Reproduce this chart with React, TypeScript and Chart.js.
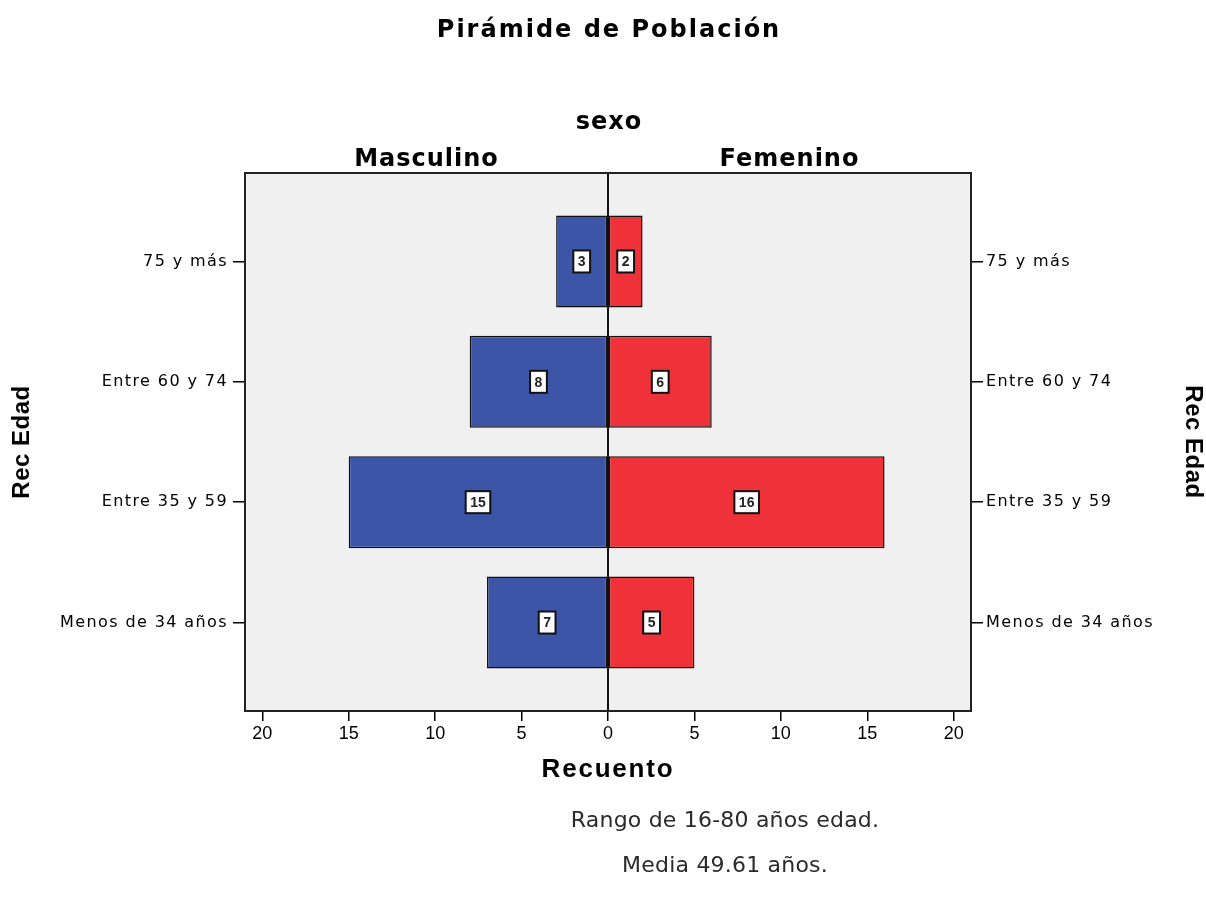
import React, { useEffect, useRef } from "react";
import { Chart, registerables } from "chart.js";

Chart.register(...registerables);

// ---------- data ----------
const ageGroups = ["75 y más", "Entre 60 y 74", "Entre 35 y 59", "Menos de 34 años"];
const maleCounts = [3, 8, 15, 7];
const femaleCounts = [2, 6, 16, 5];
const xTickValues = [-20, -15, -10, -5, 0, 5, 10, 15, 20];
const sexLabels = ["Masculino", "Femenino"];
const chartTitle = "Pirámide de Población";
const panelTitle = "sexo";
const xTitle = "Recuento";
const yTitle = "Rec Edad";
const footerLines = ["Rango de 16-80 años edad.", "Media 49.61 años."];

// ---------- styles ----------
const SANS = '"Liberation Sans", Arial, sans-serif';
const DEJAVU = '"DejaVu Sans", Verdana, sans-serif';
const MALE_COLOR = "#3c55a6";
const FEMALE_COLOR = "#ef3239";
const PLOT_BG = "#f0f0f0";

const letterSpacing: Record<string, { labels: string; title: string }> = {
  x: { labels: "0px", title: "1.8px" },
  y: { labels: "1.4px", title: "0.5px" },
  y2: { labels: "1.4px", title: "0.5px" },
};

const decorPlugin = {
  id: "pyramidDecor",
  beforeDraw(chart: any) {
    // per-scale letter spacing
    for (const id of Object.keys(chart.scales)) {
      const s: any = chart.scales[id];
      const ls = letterSpacing[id];
      if (!ls || s.__lsWrapped) continue;
      s.__lsWrapped = true;
      const origLabels = s.drawLabels;
      const origTitle = s.drawTitle;
      s.drawLabels = function (...args: any[]) {
        const prev = this.ctx.letterSpacing;
        this.ctx.letterSpacing = ls.labels;
        origLabels.apply(this, args);
        this.ctx.letterSpacing = prev;
      };
      s.drawTitle = function (...args: any[]) {
        const prev = this.ctx.letterSpacing;
        this.ctx.letterSpacing = ls.title;
        origTitle.apply(this, args);
        this.ctx.letterSpacing = prev;
      };
    }
    const { ctx, chartArea } = chart;
    ctx.save();
    ctx.fillStyle = PLOT_BG;
    ctx.fillRect(chartArea.left, chartArea.top, chartArea.right - chartArea.left, chartArea.bottom - chartArea.top);
    ctx.restore();
  },
  afterDatasetsDraw(chart: any) {
    const { ctx, chartArea } = chart;
    const xs = chart.scales.x;
    const x0 = xs.getPixelForValue(0);
    ctx.save();
    // zero line
    ctx.strokeStyle = "#111";
    ctx.lineWidth = 2;
    ctx.beginPath();
    ctx.moveTo(x0, chartArea.top);
    ctx.lineTo(x0, chartArea.bottom);
    ctx.stroke();
    // frame
    ctx.strokeStyle = "#222";
    ctx.lineWidth = 2;
    ctx.strokeRect(chartArea.left, chartArea.top, chartArea.right - chartArea.left, chartArea.bottom - chartArea.top);

    // value boxes
    const counts = [maleCounts, femaleCounts];
    ctx.font = `bold 14px ${SANS}`;
    ctx.textAlign = "center";
    ctx.textBaseline = "middle";
    chart.data.datasets.forEach((_: any, di: number) => {
      const meta = chart.getDatasetMeta(di);
      meta.data.forEach((el: any, i: number) => {
        const { x, base, y } = el.getProps(["x", "base", "y"], true);
        const cx = (x + base) / 2;
        const txt = String(counts[di][i]);
        const w = ctx.measureText(txt).width + 9;
        const h = 22;
        ctx.fillStyle = "#fff";
        ctx.fillRect(cx - w / 2, y - h / 2, w, h);
        ctx.strokeStyle = "#111";
        ctx.lineWidth = 2;
        ctx.strokeRect(cx - w / 2, y - h / 2, w, h);
        ctx.fillStyle = "#222";
        ctx.fillText(txt, cx, y + 1);
      });
    });
    ctx.restore();
  },
  afterDraw(chart: any) {
    const { ctx, chartArea } = chart;
    const xs = chart.scales.x;
    const x0 = xs.getPixelForValue(0);
    ctx.save();
    ctx.fillStyle = "#000";
    ctx.textAlign = "center";
    ctx.textBaseline = "alphabetic";
    ctx.letterSpacing = "2px";
    ctx.font = `bold 24px ${DEJAVU}`;
    ctx.fillText(chartTitle, x0 + 1, 37);
    ctx.letterSpacing = "1px";
    ctx.fillText(panelTitle, x0 + 1, 129);
    ctx.fillText(sexLabels[0], (chartArea.left + x0) / 2, 166);
    ctx.fillText(sexLabels[1], (x0 + chartArea.right) / 2, 166);
    // footer
    ctx.letterSpacing = "0.2px";
    ctx.font = `22px ${DEJAVU}`;
    ctx.fillStyle = "#2a2a2a";
    ctx.textBaseline = "middle";
    ctx.fillText(footerLines[0], 725, 821);
    ctx.fillText(footerLines[1], 725, 866);
    ctx.restore();
  },
};

function buildConfig(): any {
  const yCommon = (position: "left" | "right", width: number, titlePad: number, tickPad: number) => ({
    type: "linear",
    position,
    reverse: true,
    offset: false,
    min: -0.735,
    max: 3.735,
    stacked: true,
    afterBuildTicks: (s: any) => {
      s.ticks = ageGroups.map((_, i) => ({ value: i }));
    },
    afterFit: (s: any) => {
      s.width = width;
    },
    ticks: {
      autoSkip: false,
      callback: (v: any) => ageGroups[v] ?? "",
      font: { family: DEJAVU, size: 16 },
      color: "#000",
      padding: tickPad,
    },
    grid: {
      offset: false,
      drawOnChartArea: false,
      drawTicks: true,
      tickLength: 12,
      color: "#000",
      lineWidth: 1.5,
    },
    border: { display: false },
    title: {
      display: true,
      text: yTitle,
      color: "#000",
      font: { family: SANS, size: 24, weight: "bold", lineHeight: 1 },
      padding: { top: titlePad, bottom: 0 },
    },
  });

  return {
    type: "bar",
    data: {
      datasets: [
        {
          label: sexLabels[0],
          data: maleCounts.map((v, i) => ({ x: -v, y: i })),
          backgroundColor: MALE_COLOR,
          borderColor: "#111",
          borderWidth: 1.5,
          borderSkipped: false,
          yAxisID: "y",
        },
        {
          label: sexLabels[1],
          data: femaleCounts.map((v, i) => ({ x: v, y: i })),
          backgroundColor: FEMALE_COLOR,
          borderColor: "#111",
          borderWidth: 1.5,
          borderSkipped: false,
          yAxisID: "y",
        },
      ],
    },
    options: {
      indexAxis: "y",
      responsive: false,
      animation: false,
      categoryPercentage: 1,
      barPercentage: 0.765,
      layout: { padding: { top: 173, bottom: 99, left: 0, right: 0 } },
      plugins: {
        legend: { display: false },
        tooltip: { enabled: false },
        title: { display: false },
      },
      scales: {
        x: {
          type: "linear",
          min: -21,
          max: 21,
          stacked: true,
          offset: false,
          afterBuildTicks: (s: any) => {
            s.ticks = xTickValues.map((v) => ({ value: v }));
          },
          afterFit: (s: any) => {
            s.height = 90;
          },
          ticks: {
            autoSkip: false,
            callback: (v: any) => String(Math.abs(v)),
            font: { family: SANS, size: 18 },
            color: "#000",
            padding: 2,
          },
          grid: { drawOnChartArea: false, drawTicks: true, tickLength: 10, color: "#000", lineWidth: 1.5 },
          border: { display: false },
          title: {
            display: true,
            text: xTitle,
            color: "#000",
            font: { family: SANS, size: 26, weight: "bold", lineHeight: 1 },
            padding: { top: 0, bottom: 18 },
          },
        },
        y: yCommon("left", 245, 10.5, 5),
        y2: yCommon("right", 235, 1, 3),
      },
    },
    plugins: [decorPlugin],
  };
}

export default function App() {
  const ref = useRef<HTMLCanvasElement>(null);
  useEffect(() => {
    document.body.style.margin = "0";
    const chart = new Chart(ref.current as HTMLCanvasElement, buildConfig());
    return () => chart.destroy();
  }, []);
  return (
    <div style={{ width: 1206, height: 900 }}>
      <canvas ref={ref} width={1206} height={900} style={{ display: "block", width: 1206, height: 900 }} />
    </div>
  );
}
